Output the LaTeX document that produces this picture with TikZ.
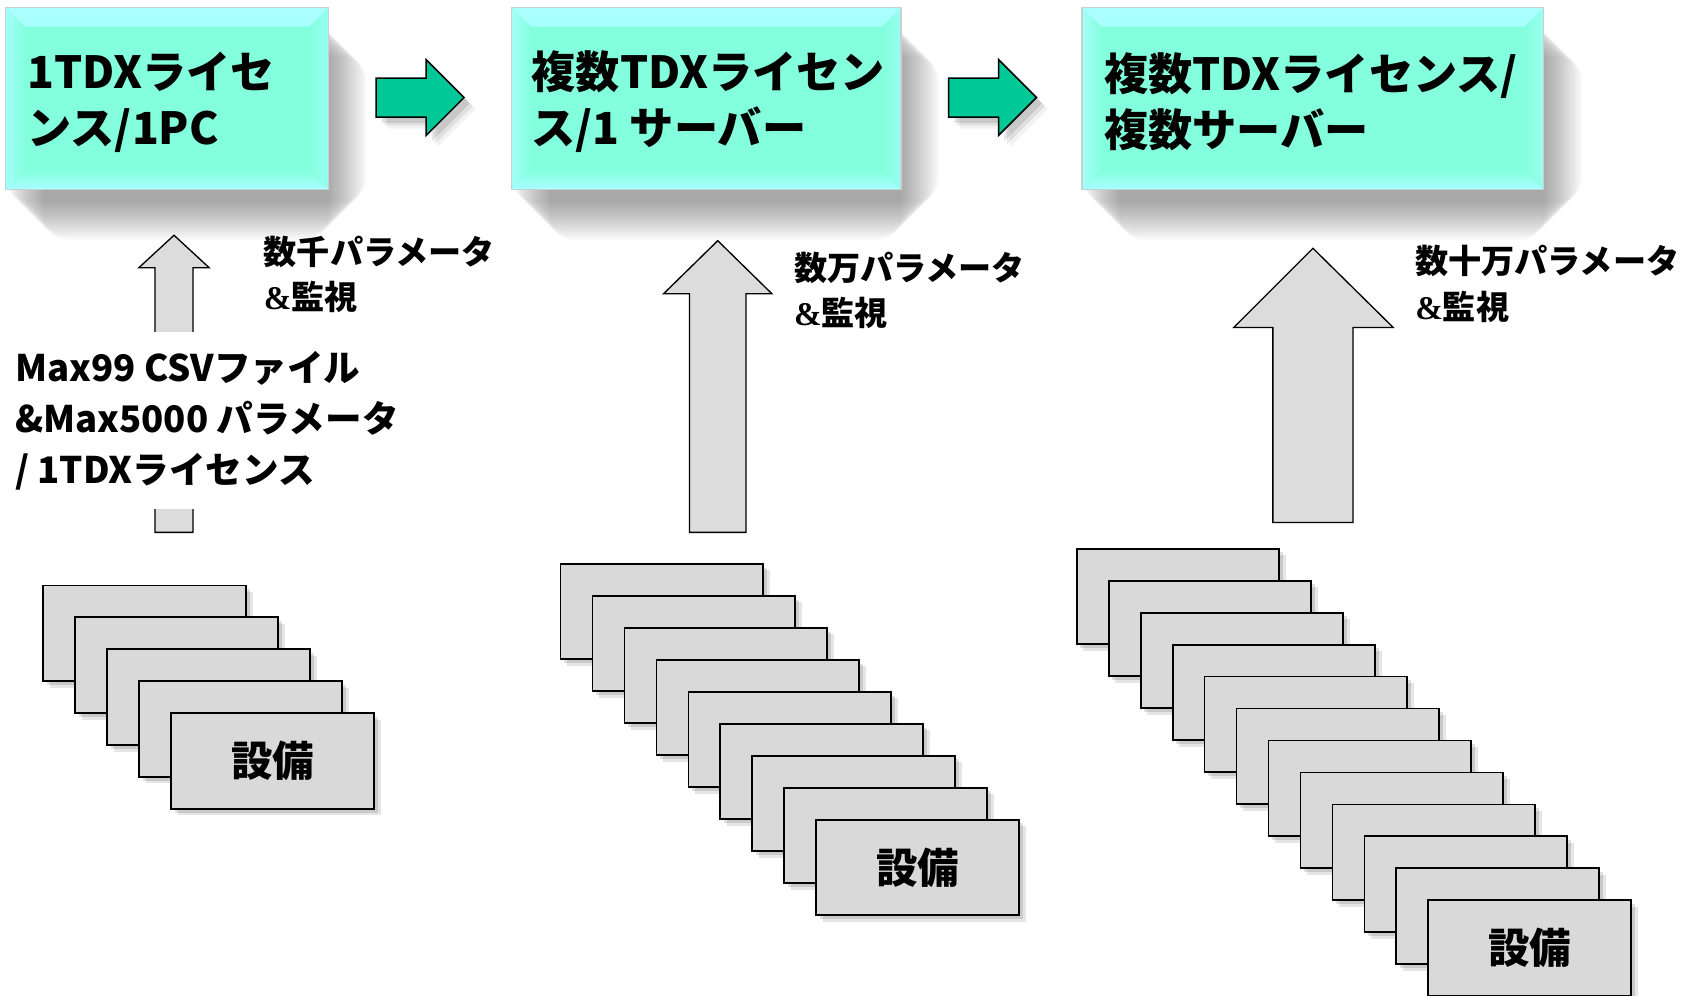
\documentclass[tikz,border=0pt]{standalone}
\usepackage{fontspec}
\setmainfont{Noto Sans CJK JP}
\newfontfamily\ampfont{Liberation Serif}
\usetikzlibrary{shadows}
\definecolor{boxmid}{RGB}{132,255,222}
\definecolor{boxlight}{RGB}{172,255,255}
\definecolor{boxedge}{RGB}{195,210,210}
\definecolor{arrowgreen}{RGB}{0,200,150}
\definecolor{devgray}{RGB}{217,217,217}
\definecolor{upgray}{RGB}{220,220,220}
\newcommand\unitD{0.02cm}
\newcommand\bev{10pt}
\pgfdeclarelayer{bg}
\pgfsetlayers{bg,main}
\newcommand\boxshadow[1]{%
  \foreach \k in {-10,-8.6,-7.2,-5.8,-4.4,-3,-1.6,-0.2,1.2,2.6,4,5.4,6.8,8.2,9.6} {
    \fill[black, opacity=0.026, rounded corners=13pt]
      ([xshift={10pt-\k pt}, yshift={-16pt-\k pt}]#1.north west)
      rectangle ([xshift={10pt+\k pt}, yshift={-16pt+\k pt}]#1.south east);
  }}
\tikzset{
  topbox/.style={rectangle, inner sep=0, fill=boxmid, draw=boxedge, line width=0.6pt,
    path picture={
      \shade[top color=boxlight, bottom color=boxmid]
        (path picture bounding box.north west) -- (path picture bounding box.north east)
        -- ([xshift=-\bev,yshift=-\bev]path picture bounding box.north east)
        -- ([xshift=\bev,yshift=-\bev]path picture bounding box.north west) -- cycle;
      \shade[bottom color=boxlight, top color=boxmid]
        (path picture bounding box.south west) -- (path picture bounding box.south east)
        -- ([xshift=-\bev,yshift=\bev]path picture bounding box.south east)
        -- ([xshift=\bev,yshift=\bev]path picture bounding box.south west) -- cycle;
      \shade[left color=boxlight!80!boxmid, right color=boxmid]
        (path picture bounding box.north west) -- (path picture bounding box.south west)
        -- ([xshift=\bev,yshift=\bev]path picture bounding box.south west)
        -- ([xshift=\bev,yshift=-\bev]path picture bounding box.north west) -- cycle;
      \shade[right color=boxlight!50!boxmid, left color=boxmid]
        (path picture bounding box.north east) -- (path picture bounding box.south east)
        -- ([xshift=-\bev,yshift=\bev]path picture bounding box.south east)
        -- ([xshift=-\bev,yshift=-\bev]path picture bounding box.north east) -- cycle;
    }},
  titletext/.style={font=\fontsize{23.2}{29.5}\selectfont\bfseries, align=left, inner sep=0, anchor=west},
  lbl/.style={font=\fontsize{17.4}{23.8}\selectfont\bfseries, align=left, inner sep=0, anchor=west},
  greenarrow/.style={fill=arrowgreen, draw=black, line width=0.8pt, line join=miter,
    general shadow={fill=black,opacity=0.10,shadow xshift=3pt,shadow yshift=-3pt},
    general shadow={fill=black,opacity=0.08,shadow xshift=4.5pt,shadow yshift=-4.5pt},
    general shadow={fill=black,opacity=0.05,shadow xshift=6pt,shadow yshift=-6pt}},
  uparrow/.style={fill=upgray, draw=black, line width=0.7pt, line join=miter},
  devbox/.style={rectangle, inner sep=0, minimum width=187*\unitD, minimum height=88*\unitD,
    fill=devgray, draw=black, line width=1pt,
    general shadow={fill=black,opacity=0.10,shadow xshift=3.5pt,shadow yshift=-3.5pt},
    general shadow={fill=black,opacity=0.12,shadow xshift=2pt,shadow yshift=-2pt},
    font=\fontsize{21.8}{24}\selectfont\bfseries},
}
\begin{document}
\begin{tikzpicture}[x=0.02cm,y=-0.02cm]
\useasboundingbox (0,0) rectangle (1568,918);
% top boxes
\node[topbox, minimum width=298*\unitD, minimum height=168*\unitD] (b1) at (154,91) {};
\node[topbox, minimum width=359*\unitD, minimum height=168*\unitD] (b2) at (651.5,91) {};
\node[topbox, minimum width=426*\unitD, minimum height=168*\unitD] (b3) at (1211,91) {};
\begin{pgfonlayer}{bg}
  \boxshadow{b1}\boxshadow{b2}\boxshadow{b3}
\end{pgfonlayer}
\node[titletext] (t1) at (25,94) {1TDXライセ\\ンス/1PC};
\node[titletext] (t2) at (490,94) {複数TDXライセン\\ス/1 サーバー};
\node[titletext] (t3) at (1018,94) {複数TDXライセンス/\\複数サーバー};
% green arrows
\draw[greenarrow] (347,72) -- (393,72) -- (393,55) -- (428,90) -- (393,125) -- (393,108) -- (347,108) -- cycle;
\draw[greenarrow] (875,72) -- (921,72) -- (921,55) -- (956,90) -- (921,125) -- (921,108) -- (875,108) -- cycle;
% up arrows
\draw[uparrow] (143,491) -- (143,247) -- (128,247) -- (160.5,217) -- (193,247) -- (178,247) -- (178,491) -- cycle;
\draw[uparrow] (636,491) -- (636,271) -- (612,271) -- (662,222) -- (712,271) -- (688,271) -- (688,491) -- cycle;
\draw[uparrow] (1174,482) -- (1174,302) -- (1138,302) -- (1211,229) -- (1285,302) -- (1248,302) -- (1248,482) -- cycle;
% labels
\node[lbl] (l1) at (243,253) {数千パラメータ\\{\ampfont\&}監視};
\node[lbl] (l2) at (732,268) {数万パラメータ\\{\ampfont\&}監視};
\node[lbl] (l3) at (1305,262) {数十万パラメータ\\{\ampfont\&}監視};
\node[lbl, font=\fontsize{19.2}{26.6}\selectfont\bfseries, fill=white, inner xsep=2pt, inner ysep=10pt] (m1) at (10,388)
  {Max99 CSVファイル\\\&Max5000 パラメータ\\/ 1TDXライセンス};
% device stacks
\foreach \i in {0,...,3} { \node[devbox] (sa\i) at ({133.5+29.5*\i},{584+29.5*\i}) {}; }
\node[devbox] (sa4) at ({133.5+29.5*4},{584+29.5*4}) {設備};
\foreach \i in {0,...,7} { \node[devbox] (sb\i) at ({610.5+29.5*\i},{564+29.5*\i}) {}; }
\node[devbox] (sb8) at ({610.5+29.5*8},{564+29.5*8}) {設備};
\foreach \i in {0,...,10} { \node[devbox] (sc\i) at ({1086.5+29.5*\i},{550+29.5*\i}) {}; }
\node[devbox] (sc11) at ({1086.5+29.5*11},{550+29.5*11}) {設備};
\end{tikzpicture}
\end{document}
